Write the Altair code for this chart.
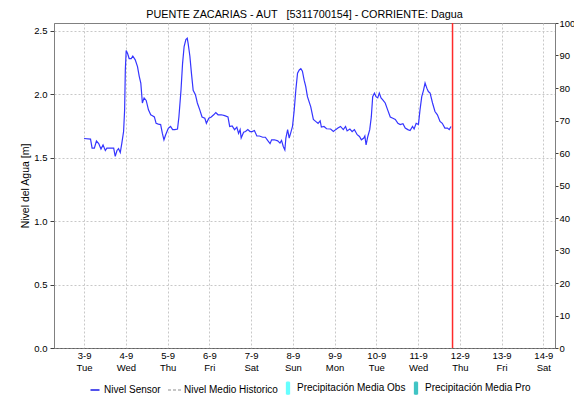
import altair as alt
import pandas as pd

# ---- data ----
title_text = "PUENTE ZACARIAS - AUT \u00a0\u00a0[5311700154] - CORRIENTE: Dagua"

# hours after 2024-09-03 00:00 and water level [m]
horas = [0, 3.7, 4.6, 5.9, 7.1, 8.4, 9.7, 10.9, 12.2, 13.1, 16.0, 17.0, 17.9, 18.9, 19.8,
         20.8, 21.7, 22.7, 23.3, 23.7, 24.2, 25.0, 25.9, 27.1, 28.0, 29.4, 30.7, 31.7,
         32.6, 33.5, 34.5, 35.7, 37.0, 38.3, 39.3, 40.4, 41.4, 42.7, 44.0, 45.0, 45.9,
         46.9, 48.4, 49.7, 50.9, 52.2, 53.7, 54.5, 55.7, 56.6, 57.5, 58.5, 59.3, 59.8,
         60.8, 61.7, 62.7, 64.0, 65.1, 66.5, 67.8, 69.4, 70.3, 71.7, 73.1, 74.5, 75.7,
         77.0, 78.9, 80.8, 82.7, 83.7, 85.1, 86.5, 87.8, 88.8, 89.7, 90.3, 91.7, 92.8,
         94.1, 95.4, 96.6, 97.9, 99.3, 100.8, 102.7, 104.2, 105.5, 106.9, 107.8, 109.4,
         111.3, 112.6, 113.5, 114.5, 115.4, 116.0, 117.0, 117.9, 118.9, 119.8, 120.8,
         121.7, 122.7, 123.7, 124.6, 125.5, 126.5, 127.4, 128.4, 130.3, 131.8, 133.1,
         134.5, 135.7, 136.4, 137.9, 139.4, 141.7, 143.3, 144.6, 145.9, 147.4, 149.0,
         150.3, 151.2, 152.8, 154.1, 155.4, 157.0, 158.3, 159.4, 160.8, 161.4, 162.1,
         163.1, 164.2, 165.1, 165.9, 166.9, 167.8, 168.8, 169.7, 170.7, 171.7, 173.1,
         174.5, 176.0, 177.5, 178.9, 180.4, 181.7, 183.3, 184.6, 186.1, 187.4, 188.8,
         189.7, 190.9, 192.2, 193.1, 194.1, 195.1, 196.0, 197.0, 197.9, 198.9, 200.3,
         201.7, 203.1, 204.6, 205.9, 207.4, 208.9, 209.9, 210.9]
nivel = [1.65, 1.645, 1.575, 1.575, 1.63, 1.61, 1.567, 1.60, 1.556, 1.575, 1.575, 1.575,
         1.51, 1.556, 1.57, 1.54, 1.614, 1.705, 1.876, 2.19, 2.343, 2.32, 2.28, 2.28, 2.30,
         2.27, 2.217, 2.14, 2.087, 1.93, 1.97, 1.95, 1.876, 1.837, 1.83, 1.82, 1.77, 1.764,
         1.76, 1.69, 1.64, 1.68, 1.73, 1.745, 1.72, 1.72, 1.725, 1.82, 2.03, 2.24, 2.375,
         2.43, 2.44, 2.40, 2.30, 2.165, 2.03, 1.995, 1.93, 1.876, 1.82, 1.81, 1.77, 1.81,
         1.82, 1.837, 1.855, 1.837, 1.837, 1.83, 1.82, 1.745, 1.75, 1.72, 1.74, 1.69, 1.72,
         1.654, 1.70, 1.705, 1.72, 1.705, 1.705, 1.713, 1.67, 1.67, 1.66, 1.66, 1.635,
         1.61, 1.64, 1.64, 1.632, 1.614, 1.635, 1.587, 1.56, 1.654, 1.72, 1.654, 1.70,
         1.745, 1.876, 2.03, 2.165, 2.19, 2.20, 2.18, 2.11, 2.06, 1.98, 1.90, 1.80, 1.785,
         1.77, 1.79, 1.74, 1.745, 1.727, 1.725, 1.705, 1.72, 1.732, 1.745, 1.72, 1.745,
         1.71, 1.725, 1.705, 1.72, 1.68, 1.666, 1.64, 1.654, 1.67, 1.60, 1.666, 1.72, 1.82,
         1.98, 2.008, 1.98, 1.97, 2.008, 1.97, 1.955, 1.93, 1.876, 1.82, 1.81, 1.80, 1.77,
         1.76, 1.767, 1.732, 1.72, 1.713, 1.745, 1.725, 1.77, 1.76, 1.876, 1.98, 2.03,
         2.087, 2.047, 2.02, 2.008, 1.93, 1.863, 1.837, 1.785, 1.77, 1.732, 1.732, 1.72,
         1.745]

hora_actual = 211.8          # red "now" line, hours after 2024-09-03 00:00
dominio_horas = [-17.3, 270.7]
dias_ticks = list(range(0, 12))     # Sep 3 .. Sep 14

y_left_ticks = [0, 0.5, 1.0, 1.5, 2.0, 2.5]
y_right_ticks = [0, 10, 20, 30, 40, 50, 60, 70, 80, 90, 100]

series = ["Nivel Sensor", "Nivel Medio Historico",
          "Precipitación Media Obs", "Precipitación Media Pro"]
series_colors = ["#1a1ae6", "#b4b4b4", "#66ffff", "#40c4c4"]
series_shapes = ["M-0.9,0H0.9", "M-1.4,0H1.4",
                 "M-0.3,-1.2H0.3V1.2H-0.3Z", "M-0.3,-1.2H0.3V1.2H-0.3Z"]
series_dash = [[1, 0], [3, 2], [1, 0], [1, 0]]

# ---- build tables ----
base = pd.Timestamp("2024-09-03", tz="UTC").value // 10**6
H = 3600000
df = pd.DataFrame({"t": [base + h * H for h in horas], "nivel": nivel})
x_domain = [base + h * H for h in dominio_horas]
x_ticks = [base + d * 24 * H for d in dias_ticks]
df_now = pd.DataFrame({"t": [base + hora_actual * H]})
df_leg = pd.DataFrame({"serie": series, "t": [base] * 4, "p": [0] * 4})

FONT = "Liberation Sans"
TICK_FS = 9.5

x_scale = alt.Scale(type="utc", domain=x_domain, nice=False)
x_axis = alt.Axis(values=x_ticks, title=None, grid=True, gridColor="#c8c8c8",
                  gridDash=[2, 2], ticks=False, tickSize=0, labelPadding=2,
                  labelExpr="[utcFormat(datum.value, '%-d-%-m'), utcFormat(datum.value, '%a')]",
                  labelLineHeight=12.5, labelFontSize=TICK_FS, labelColor="#000000",
                  labelFont=FONT, domainColor="#404040", domainDash=[1, 1])

line = alt.Chart(df).mark_line(color="#3535ff", strokeWidth=1.2).encode(
    x=alt.X("t:T", scale=x_scale, axis=x_axis),
    y=alt.Y("nivel:Q",
            scale=alt.Scale(domain=[0, 2.56], nice=False, zero=True),
            axis=alt.Axis(values=y_left_ticks, format=".1f", title="Nivel del Agua [m]",
                          titleFont=FONT, titleFontSize=10.5, titleFontWeight="normal",
                          titleColor="#000000", titlePadding=3,
                          labelFont=FONT, labelFontSize=TICK_FS, labelColor="#000000",
                          labelPadding=3, tickSize=4, tickColor="#404040",
                          grid=True, gridColor="#c8c8c8", gridDash=[2, 2],
                          domainColor="#808080")),
)

now_rule = alt.Chart(df_now).mark_rule(color="#ff2a2a", strokeWidth=1.5).encode(
    x=alt.X("t:T", scale=x_scale)
)

leg = alt.Legend(title=None, orient="none", legendX=35, legendY=359,
                 direction="horizontal", symbolOpacity=1, symbolSize=100,
                 symbolStrokeWidth=1.3, labelFont=FONT, labelFontSize=10,
                 labelColor="#000000", columnPadding=4, labelOffset=3, padding=0)

legend_layer = alt.Chart(df_leg).mark_point(opacity=0).encode(
    x=alt.X("t:T", scale=x_scale),
    y=alt.Y("p:Q", scale=alt.Scale(domain=[0, 100], nice=False),
            axis=alt.Axis(orient="right", values=y_right_ticks, title=None, grid=False,
                          labelFont=FONT, labelFontSize=TICK_FS, labelColor="#000000",
                          labelPadding=1, tickSize=3, tickColor="#404040",
                          domainColor="#808080")),
    fill=alt.Fill("serie:N", scale=alt.Scale(domain=series, range=series_colors), legend=leg),
    stroke=alt.Stroke("serie:N", scale=alt.Scale(domain=series, range=series_colors), legend=leg),
    shape=alt.Shape("serie:N", scale=alt.Scale(domain=series, range=series_shapes), legend=leg),
    strokeDash=alt.StrokeDash("serie:N", scale=alt.Scale(domain=series, range=series_dash), legend=leg),
)

chart = alt.layer(line, now_rule, legend_layer).resolve_scale(y="independent").properties(
    width=501, height=325,
    title=alt.TitleParams(title_text, font=FONT, fontSize=10.8, fontWeight="normal",
                          color="#000000", anchor="middle", offset=-1.5),
    autosize=alt.AutoSizeParams(type="none"),
    padding={"left": 46, "top": 15, "right": 19, "bottom": 47},
).configure_view(stroke="#808080", strokeWidth=1)

chart.save("out.html", embed_options={"renderer": "svg", "actions": False})
